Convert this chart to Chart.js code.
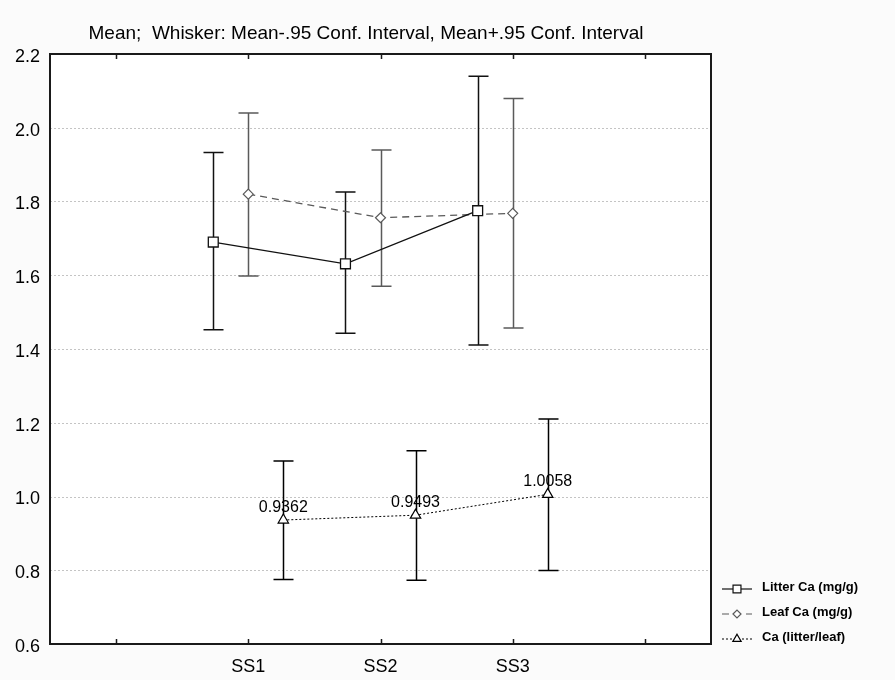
<!DOCTYPE html>
<html>
<head>
<meta charset="utf-8">
<script src="https://cdn.jsdelivr.net/npm/chart.js@4.4.0/dist/chart.umd.min.js"></script>
<style>
html, body { margin: 0; padding: 0; background: #fbfbfb; }
#wrap { width: 895px; height: 680px; }
</style>
</head>
<body>
<div id="wrap"><canvas id="chart" width="895" height="680"></canvas></div>
<script>
// groups on the x axis
const groups = ['SS1', 'SS2', 'SS3'];
const xTickLabels = ['', 'SS1', 'SS2', 'SS3', ''];

// Litter Ca (mg/g): mean and .95 conf. interval
const litterMean = [1.690, 1.631, 1.775];
const litterLow = [1.452, 1.443, 1.411];
const litterHigh = [1.933, 1.826, 2.140];

// Leaf Ca (mg/g)
const leafMean = [1.820, 1.756, 1.768];
const leafLow = [1.598, 1.570, 1.457];
const leafHigh = [2.040, 1.940, 2.079];

// Ca (litter/leaf)
const ratioMean = [0.9362, 0.9493, 1.0058];
const ratioLow = [0.775, 0.773, 0.799];
const ratioHigh = [1.096, 1.124, 1.210];

const seriesNames = ['Litter Ca (mg/g)', 'Leaf Ca (mg/g)', 'Ca (litter/leaf)'];
const yTicks = [0.6, 0.8, 1.0, 1.2, 1.4, 1.6, 1.8, 2.0, 2.2];

const spread = 0.265; // horizontal shift of the three series within a group
const font = '"Liberation Sans", Arial, sans-serif';

const points = function(means, shift) {
  return groups.map((g, i) => ({ x: i + 1 + shift, y: means[i] }));
};

/* background, grid, whiskers, frame, title and legend */
const decor = {
  id: 'decor',
  beforeDraw(chart) {
    const ctx = chart.ctx;
    const a = chart.chartArea;
    const ys = chart.scales.y;
    ctx.save();
    ctx.fillStyle = '#fbfbfb';
    ctx.fillRect(0, 0, chart.width, chart.height);
    ctx.fillStyle = '#ffffff';
    ctx.fillRect(a.left, a.top, a.right - a.left, a.bottom - a.top);
    ctx.strokeStyle = '#c4c4c4';
    ctx.lineWidth = 1;
    ctx.setLineDash([2, 2]);
    yTicks.slice(1, -1).forEach(v => {
      const y = Math.round(ys.getPixelForValue(v)) + 0.5;
      ctx.beginPath();
      ctx.moveTo(a.left, y);
      ctx.lineTo(a.right, y);
      ctx.stroke();
    });
    ctx.restore();
  },
  beforeDatasetsDraw(chart) {
    const ctx = chart.ctx;
    const xs = chart.scales.x, ys = chart.scales.y;
    ctx.save();
    chart.data.datasets.forEach(ds => {
      ctx.strokeStyle = ds.whiskerColor;
      ctx.lineWidth = 1.5;
      ds.data.forEach((p, j) => {
        const x = Math.round(xs.getPixelForValue(p.x)) + 0.5;
        const lo = ys.getPixelForValue(ds.lows[j]);
        const hi = ys.getPixelForValue(ds.highs[j]);
        ctx.beginPath();
        ctx.moveTo(x, lo); ctx.lineTo(x, hi);
        ctx.moveTo(x - 10, lo); ctx.lineTo(x + 10, lo);
        ctx.moveTo(x - 10, hi); ctx.lineTo(x + 10, hi);
        ctx.stroke();
      });
    });
    ctx.restore();
  },
  afterDatasetsDraw(chart) {
    const ctx = chart.ctx;
    const xs = chart.scales.x, ys = chart.scales.y;
    ctx.save();
    ctx.fillStyle = '#000';
    ctx.font = '16px ' + font;
    ctx.textAlign = 'center';
    ctx.textBaseline = 'alphabetic';
    chart.data.datasets.forEach(ds => {
      if (!ds.showValues) return;
      ds.data.forEach(p => {
        ctx.fillText(p.y.toFixed(4), xs.getPixelForValue(p.x), ys.getPixelForValue(p.y) - 8);
      });
    });
    ctx.restore();
  },
  afterDraw(chart) {
    const ctx = chart.ctx;
    const a = chart.chartArea;
    const xs = chart.scales.x;
    ctx.save();
    // frame
    ctx.strokeStyle = '#1a1a1a';
    ctx.lineWidth = 2;
    ctx.strokeRect(a.left, a.top, a.right - a.left, a.bottom - a.top);
    // inward tick marks on top and bottom
    ctx.lineWidth = 1.5;
    xTickLabels.forEach((l, i) => {
      const x = Math.round(xs.getPixelForValue(i)) + 0.5;
      ctx.beginPath();
      ctx.moveTo(x, a.top); ctx.lineTo(x, a.top + 5);
      ctx.moveTo(x, a.bottom); ctx.lineTo(x, a.bottom - 5);
      ctx.stroke();
    });
    // title
    ctx.fillStyle = '#000';
    ctx.font = '19px ' + font;
    ctx.textAlign = 'center';
    ctx.textBaseline = 'alphabetic';
    ctx.fillText('Mean;  Whisker: Mean-.95 Conf. Interval, Mean+.95 Conf. Interval', 366, 39);
    // legend
    const rowY = [589, 614, 639];
    chart.data.datasets.forEach((ds, i) => {
      const y = rowY[i];
      ctx.strokeStyle = ds.borderColor;
      ctx.lineWidth = 1.2;
      ctx.setLineDash(ds.borderDash || []);
      ctx.beginPath();
      ctx.moveTo(722, y); ctx.lineTo(752, y);
      ctx.stroke();
      ctx.setLineDash([]);
      ctx.fillStyle = '#fff';
      Chart.helpers.drawPoint(ctx, {
        pointStyle: ds.pointStyle,
        radius: ds.pointRadius * 0.8,
        borderWidth: 1.2,
        rotation: 0
      }, 737, y);
      ctx.fillStyle = '#000';
      ctx.font = 'bold 13px ' + font;
      ctx.textAlign = 'left';
      ctx.textBaseline = 'alphabetic';
      ctx.fillText(ds.label, 762, y + 2);
    });
    ctx.restore();
  }
};

const ctx = document.getElementById('chart').getContext('2d');
const chart = new Chart(ctx, {
  type: 'scatter',
  data: {
    datasets: [
      {
        label: seriesNames[0],
        data: points(litterMean, -spread),
        lows: litterLow, highs: litterHigh,
        whiskerColor: '#111',
        showLine: true,
        borderColor: '#111',
        borderWidth: 1.3,
        pointStyle: 'rect',
        pointRadius: 7,
        pointBackgroundColor: '#fff',
        pointBorderColor: '#111',
        pointBorderWidth: 1.3
      },
      {
        label: seriesNames[1],
        data: points(leafMean, 0),
        lows: leafLow, highs: leafHigh,
        whiskerColor: '#5a5a5a',
        showLine: true,
        borderColor: '#5a5a5a',
        borderWidth: 1.3,
        borderDash: [7, 5],
        pointStyle: 'rectRot',
        pointRadius: 5,
        pointBackgroundColor: '#fff',
        pointBorderColor: '#5a5a5a',
        pointBorderWidth: 1.2
      },
      {
        label: seriesNames[2],
        data: points(ratioMean, spread),
        lows: ratioLow, highs: ratioHigh,
        whiskerColor: '#000',
        showValues: true,
        showLine: true,
        borderColor: '#000',
        borderWidth: 1,
        borderDash: [2, 2],
        pointStyle: 'triangle',
        pointRadius: 6,
        pointBackgroundColor: '#fff',
        pointBorderColor: '#000',
        pointBorderWidth: 1.2
      }
    ]
  },
  options: {
    responsive: false,
    animation: false,
    layout: { padding: { top: 54, right: 184, left: 0, bottom: 0 } },
    plugins: {
      legend: { display: false },
      title: { display: false },
      tooltip: { enabled: false }
    },
    scales: {
      x: {
        type: 'linear',
        min: -0.5,
        max: 4.5,
        afterBuildTicks: s => { s.ticks = xTickLabels.map((l, i) => ({ value: i })); },
        afterFit: s => { s.height = 36; },
        grid: { display: false, drawTicks: false },
        border: { display: false },
        ticks: {
          autoSkip: false,
          maxRotation: 0,
          padding: 12,
          color: '#000',
          font: { family: font, size: 18 },
          callback: v => xTickLabels[v]
        }
      },
      y: {
        min: 0.6,
        max: 2.2,
        afterBuildTicks: s => { s.ticks = yTicks.map(v => ({ value: v })); },
        afterFit: s => { s.width = 50; },
        grid: { display: false, drawTicks: false },
        border: { display: false },
        ticks: {
          padding: 10,
          labelOffset: 3,
          color: '#000',
          font: { family: font, size: 18 },
          callback: v => v.toFixed(1)
        }
      }
    }
  },
  plugins: [decor]
});
</script>
</body>
</html>
